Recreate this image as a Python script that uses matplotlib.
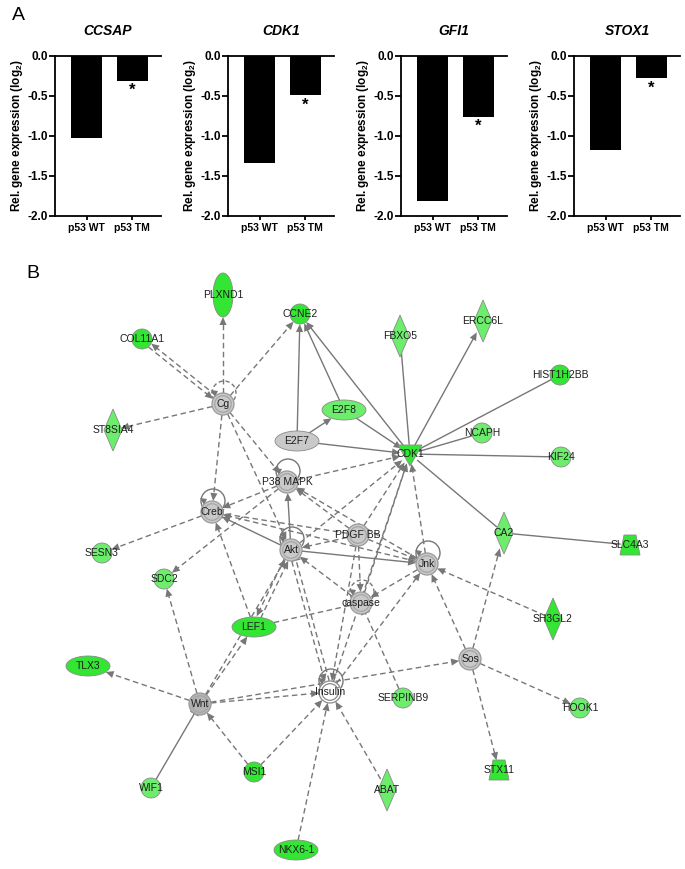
import numpy as np
import matplotlib
matplotlib.use("Agg")
import matplotlib.pyplot as plt
from matplotlib.patches import Circle, Ellipse, Polygon, Arc

plt.rcParams['font.family'] = ['Liberation Sans', 'DejaVu Sans']
plt.rcParams['mathtext.fontset'] = 'custom'
plt.rcParams['mathtext.rm'] = 'Liberation Sans:bold'
plt.rcParams['mathtext.bf'] = 'Liberation Sans:bold'

# ---- panel A data ----
genes = ["CCSAP", "CDK1", "GFI1", "STOX1"]
groups = ["p53 WT", "p53 TM"]
wt_vals = [-1.02, -1.34, -1.81, -1.17]
tm_vals = [-0.31, -0.49, -0.76, -0.28]
yticks = [0.0, -0.5, -1.0, -1.5, -2.0]

# ---- panel B data (network) ----
node_names = ["PLXND1", "CCNE2", "COL11A1", "Cg", "ST8SIA4", "E2F8", "E2F7",
              "P38 MAPK", "FBXO5", "ERCC6L", "HIST1H2BB", "NCAPH", "CDK1",
              "KIF24", "Creb", "SESN3", "SDC2", "Akt", "LEF1", "TLX3",
              "PDGF BB", "Jnk", "caspase", "CA2", "SLC4A3", "SH3GL2", "Sos",
              "Wnt", "Insulin", "SERPINB9", "STX11", "WIF1", "MSI1", "ABAT",
              "NKX6-1", "HOOK1"]
node_x = [223, 300, 142, 223, 113, 344, 297, 287, 400, 483, 560, 482, 410,
          561, 212, 102, 164, 291, 254, 88, 358, 427, 361, 504, 630, 553, 470,
          200, 330, 403, 499, 151, 254, 387, 296, 580]
node_y = [295, 314, 339, 404, 430, 410, 441, 482, 336, 321, 375, 433, 454,
          457, 512, 553, 579, 550, 627, 666, 535, 564, 603, 533, 545, 619, 659,
          704, 692, 698, 770, 788, 772, 790, 850, 708]
node_shape = ["vellipse", "circle", "circle", "hub", "diamond", "ellipse", "gellipse",
              "hub", "diamond", "diamond", "circle", "circle", "triangle",
              "circle", "hub", "circle", "circle", "hub", "ellipse", "ellipse",
              "hub", "hub", "hub", "diamond", "trapezoid", "diamond", "hub",
              "hub", "insulin", "circle", "trapezoid", "circle", "circle", "diamond",
              "ellipse", "circle"]
# 2 = strongly down (bright green), 1 = moderately down, 0 = not measured
node_level = [2, 2, 2, 0, 1, 1, 0, 0, 1, 1, 2, 1, 2, 1, 0, 1, 1, 0, 2, 2,
              0, 0, 0, 1, 2, 2, 0, 0, 0, 1, 2, 1, 2, 1, 2, 1]
self_loops = {"Cg": "dashed", "P38 MAPK": "solid", "Creb": "solid", "Akt": "solid",
              "Jnk": "solid", "caspase": "dashed", "Insulin": "solid"}

# (source, target, line, end)
edges = [
    ("E2F7", "CCNE2", "solid", "arrow"), ("E2F8", "CCNE2", "solid", "arrow"),
    ("CDK1", "CCNE2", "solid", "arrow"), ("E2F7", "E2F8", "solid", "arrow"),
    ("E2F7", "CDK1", "solid", "arrow"), ("E2F8", "CDK1", "solid", "arrow"),
    ("CDK1", "FBXO5", "solid", "none"), ("CDK1", "ERCC6L", "solid", "arrow"),
    ("CDK1", "HIST1H2BB", "solid", "none"), ("CDK1", "NCAPH", "solid", "none"),
    ("CDK1", "KIF24", "solid", "none"), ("CDK1", "CA2", "solid", "none"),
    ("CA2", "SLC4A3", "solid", "none"), ("Akt", "Creb", "solid", "arrow"),
    ("Akt", "P38 MAPK", "solid", "arrow"), ("Akt", "Jnk", "solid", "arrow"),
    ("WIF1", "Wnt", "solid", "tbar"),
    ("Cg", "PLXND1", "dashed", "arrow"), ("Cg", "COL11A1", "dashed", "arrow"),
    ("COL11A1", "Cg", "dashed", "arrow"), ("Cg", "CCNE2", "dashed", "arrow"),
    ("Cg", "ST8SIA4", "dashed", "arrow"), ("Cg", "Creb", "dashed", "arrow"),
    ("Cg", "P38 MAPK", "dashed", "arrow"), ("Cg", "Akt", "dashed", "arrow"),
    ("P38 MAPK", "Creb", "dashed", "arrow"), ("P38 MAPK", "SDC2", "dashed", "arrow"),
    ("P38 MAPK", "CDK1", "dashed", "arrow"), ("Jnk", "P38 MAPK", "dashed", "arrow"),
    ("PDGF BB", "P38 MAPK", "dashed", "arrow"), ("Creb", "SESN3", "dashed", "arrow"),
    ("PDGF BB", "Creb", "dashed", "tbar"), ("Jnk", "Creb", "dashed", "arrow"),
    ("PDGF BB", "Akt", "dashed", "arrow"), ("PDGF BB", "Jnk", "dashed", "arrow"),
    ("PDGF BB", "CDK1", "dashed", "arrow"), ("PDGF BB", "caspase", "dashed", "arrow"),
    ("Akt", "CDK1", "dashed", "arrow"), ("Jnk", "CDK1", "dashed", "arrow"),
    ("caspase", "CDK1", "dashed", "arrow"), ("Insulin", "CDK1", "dashed", "arrow"),
    ("caspase", "Akt", "dashed", "arrow"), ("Jnk", "caspase", "dashed", "arrow"),
    ("LEF1", "caspase", "dashed", "none"), ("SERPINB9", "caspase", "dashed", "tbar"),
    ("Insulin", "Jnk", "dashed", "arrow"), ("Sos", "Jnk", "dashed", "arrow"),
    ("SH3GL2", "Jnk", "dashed", "arrow"), ("Sos", "CA2", "dashed", "arrow"),
    ("Sos", "STX11", "dashed", "arrow"), ("Sos", "HOOK1", "dashed", "arrow"),
    ("Wnt", "Sos", "dashed", "arrow"), ("Wnt", "Insulin", "dashed", "arrow"),
    ("Wnt", "TLX3", "dashed", "arrow"), ("Wnt", "LEF1", "dashed", "arrow"),
    ("Wnt", "Akt", "dashed", "arrow"), ("Wnt", "SDC2", "dashed", "arrow"),
    ("LEF1", "Creb", "dashed", "arrow"), ("LEF1", "Akt", "dashed", "arrow"),
    ("Akt", "LEF1", "dashed", "arrow"), ("Akt", "Insulin", "dashed", "arrow"),
    ("Insulin", "Akt", "dashed", "tbar"), ("MSI1", "Wnt", "dashed", "arrow"),
    ("MSI1", "Insulin", "dashed", "arrow"), ("NKX6-1", "Insulin", "dashed", "arrow"),
    ("ABAT", "Insulin", "dashed", "arrow"), ("PDGF BB", "Insulin", "dashed", "arrow"),
]

W, H = 685, 869
fig = plt.figure(figsize=(W / 100, H / 100), dpi=100)

# ---------------- panel A ----------------
lefts = [55, 228, 401, 574]
for i, gene in enumerate(genes):
    ax = fig.add_axes([lefts[i] / W, 1 - 216 / H, 106 / W, 160 / H])
    ax.bar([0, 1], [wt_vals[i], tm_vals[i]], width=0.68, color="black")
    ax.set_xlim(-0.7, 1.63)
    ax.set_ylim(-2.0, 0.0)
    ax.set_yticks(yticks)
    ax.set_yticklabels([f"{v:.1f}" for v in yticks], fontsize=8.5, fontweight="bold")
    ax.set_xticks([0, 1])
    ax.set_xticklabels(groups, fontsize=7.5, fontweight="bold")
    for s in ["left", "top", "bottom"]:
        ax.spines[s].set_linewidth(1.3)
    ax.spines["right"].set_visible(False)
    ax.tick_params(axis="y", length=4, width=1.3, pad=1)
    ax.tick_params(axis="x", length=3, width=1.3, pad=2)
    ax.set_ylabel("Rel. gene expression (log$_{2}$)", fontsize=8.5,
                  fontweight="bold", labelpad=2)
    ax.set_title(gene, fontsize=10, fontweight="bold", style="italic", pad=15)
    ax.text(1, tm_vals[i] - 0.03, "*", ha="center", va="top", fontsize=12,
            fontweight="bold")

fig.text(12 / W, 1 - 16 / H, "A", fontsize=14, va="center", ha="left")
fig.text(26 / W, 1 - 273 / H, "B", fontsize=14, va="center", ha="left")

# ---------------- panel B ----------------
axn = fig.add_axes([0, 0, 1, 1], zorder=-1)
axn.set_xlim(0, W)
axn.set_ylim(H, 0)
axn.axis("off")

pos = {n: np.array([x, y], dtype=float) for n, x, y in zip(node_names, node_x, node_y)}
shape_of = dict(zip(node_names, node_shape))
level_of = dict(zip(node_names, node_level))

semi = {"circle": (10, 10), "hub": (11, 11), "insulin": (11, 11),
        "ellipse": (22, 10), "gellipse": (22, 10), "vellipse": (10, 22),
        "diamond": (8, 18), "triangle": (10, 10), "trapezoid": (10, 10)}

edge_col = "#777777"


def boundary(name, d):
    a, b = semi[shape_of[name]]
    return 1.0 / np.sqrt((d[0] / a) ** 2 + (d[1] / b) ** 2)


pairs = {(s, t) for s, t, _, _ in edges}
for s, t, line, end in edges:
    p0, p1 = pos[s], pos[t]
    d = p1 - p0
    d = d / np.linalg.norm(d)
    perp = np.array([-d[1], d[0]])
    off = 2.2 * perp if (t, s) in pairs else 0
    a = p0 + d * boundary(s, d) + off
    b = p1 - d * boundary(t, d) + off
    ls = (0, (4, 2.5)) if line == "dashed" else "-"
    stop = b - d * 7 if end == "arrow" else b
    axn.plot([a[0], stop[0]], [a[1], stop[1]], color=edge_col, lw=1.0,
             linestyle=ls, zorder=1)
    if end == "arrow":
        base = b - d * 8
        axn.add_patch(Polygon([b, base + perp * 3.6, base - perp * 3.6],
                              closed=True, color=edge_col, lw=0, zorder=2))
    elif end == "tbar":
        axn.plot([b[0] - perp[0] * 4, b[0] + perp[0] * 4],
                 [b[1] - perp[1] * 4, b[1] + perp[1] * 4], color=edge_col,
                 lw=1.0, zorder=2)

for n, style in self_loops.items():
    x, y = pos[n]
    ls = (0, (3, 2)) if style == "dashed" else "-"
    axn.add_patch(Arc((x + 1, y - 11), 24, 24, theta1=145, theta2=395,
                      color=edge_col, lw=1.0, linestyle=ls, zorder=1))
    tip = np.array([x - 8, y - 7])
    axn.add_patch(Polygon([tip, tip + [-4, -7], tip + [3, -6]], closed=True,
                          color=edge_col, lw=0, zorder=2))

green = {2: "#33e633", 1: "#6cee6c"}
for n in node_names:
    x, y = pos[n]
    shp = shape_of[n]
    fc = green.get(level_of[n], "#c9c9c9")
    ec = "#8a8a8a"
    if shp == "circle":
        axn.add_patch(Circle((x, y), 10, fc=fc, ec=ec, lw=0.6, zorder=3))
    elif shp == "hub":
        fc = "#b4b4b4" if n == "Wnt" else "#c9c9c9"
        axn.add_patch(Circle((x, y), 11, fc=fc, ec="#9a9a9a", lw=0.9, zorder=3))
        axn.add_patch(Circle((x, y), 8.3, fc="none", ec="#a5a5a5", lw=0.9, zorder=3))
    elif shp == "insulin":
        axn.add_patch(Circle((x, y), 11, fc="white", ec="#8a8a8a", lw=0.9, zorder=3))
        axn.add_patch(Circle((x, y), 8.3, fc="none", ec="#8a8a8a", lw=0.9, zorder=3))
    elif shp in ("ellipse", "gellipse"):
        axn.add_patch(Ellipse((x, y), 44, 20, fc=fc, ec=ec, lw=0.6, zorder=3))
    elif shp == "vellipse":
        axn.add_patch(Ellipse((x, y), 20, 44, fc=fc, ec=ec, lw=0.6, zorder=3))
    elif shp == "diamond":
        axn.add_patch(Polygon([(x, y - 21), (x + 9, y), (x, y + 21), (x - 9, y)],
                              closed=True, fc=fc, ec=ec, lw=0.6, zorder=3))
    elif shp == "triangle":
        axn.add_patch(Polygon([(x - 12, y - 9), (x + 12, y - 9), (x, y + 12)],
                              closed=True, fc=fc, ec=ec, lw=0.6, zorder=3))
    elif shp == "trapezoid":
        axn.add_patch(Polygon([(x - 6, y - 10), (x + 6, y - 10), (x + 10, y + 10),
                               (x - 10, y + 10)], closed=True, fc=fc, ec=ec,
                              lw=0.6, zorder=3))
    axn.text(x, y, n, fontsize=7.5, ha="center", va="center", color="#1e1e1e",
             zorder=4)

fig.savefig("out.png", dpi=100)
